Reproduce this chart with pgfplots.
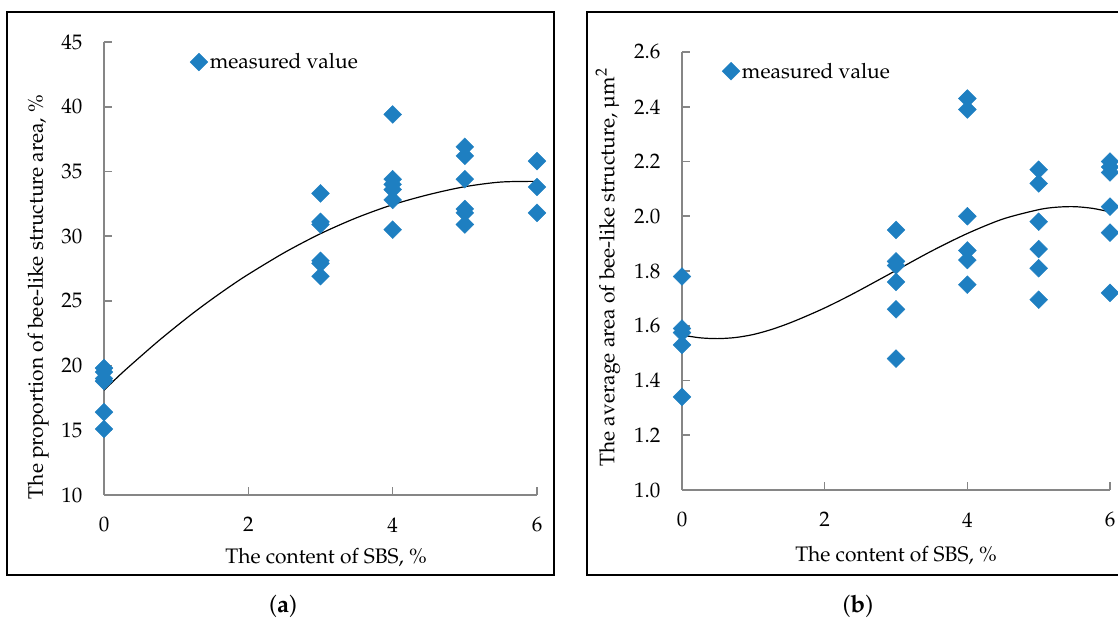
\documentclass[border=0pt]{standalone}
\usepackage[T1]{fontenc}
\usepackage{mathpazo}
\usepackage{textcomp}
\usepackage{pgfplots}
\pgfplotsset{compat=1.18}
\definecolor{mblue}{RGB}{30,127,193}
\definecolor{axgray}{RGB}{134,134,134}
\newcommand{\fs}{\fontsize{21}{25}\selectfont}
\pgfplotsset{
  myaxis/.style={
    scale only axis,
    anchor=south west,
    clip=false,
    axis x line=bottom,
    axis y line=left,
    axis line style={-, draw=axgray, line width=1.6pt},
    tick style={draw=axgray, line width=1.6pt},
    major tick length=8pt,
    tick align=inside,
    xmin=0, xmax=6,
    xtick={0,2,4,6},
    every tick label/.append style={font=\fs, text=black},
    yticklabel style={xshift=-18pt},
    xticklabel style={yshift=-19pt},
    label style={font=\fs},
    legend style={draw=none, fill=none, font=\fs, anchor=west, inner sep=0pt},
  },
  pts/.style={only marks, mark=square*, mark size=6.3pt,
    mark options={rotate=45, fill=mblue, draw=mblue}},
  fit/.style={no marks, black, line width=1.2pt, smooth},
}
\begin{document}
\begin{tikzpicture}
\useasboundingbox (0,0) rectangle (1118pt,628pt);
\draw[line width=1.5pt] (7pt,616pt) rectangle (554pt,53pt);
\draw[line width=1.5pt] (587pt,616pt) rectangle (1125pt,53pt);
\node[font=\fontsize{24}{28}\selectfont] at (283pt,22pt) {(\textbf{a})};
\node[font=\fontsize{24}{28}\selectfont] at (858pt,22pt) {(\textbf{b})};

\begin{axis}[myaxis,
  at={(104pt,133pt)}, width=433pt, height=453pt,
  ymin=10, ymax=45, ytick={10,15,20,25,30,35,40,45},
  xlabel={The content of SBS, \%},
  xlabel style={at={(rel axis cs:0.513,0)}, anchor=center, yshift=-63pt},
  ylabel={The proportion of bee-like structure area, \%},
  ylabel style={at={(rel axis cs:-0.152,0.437)}, anchor=center, rotate=0},
  legend style={at={(axis cs:1.19,43.45)}},
]
\addplot[pts] coordinates {
 (0,19.8) (0,19.5) (0,19.0) (0,18.8) (0,16.4) (0,15.1)
 (3,33.3) (3,31.1) (3,30.9) (3,28.1) (3,27.9) (3,26.9)
 (4,39.4) (4,34.4) (4,34.0) (4,33.6) (4,32.8) (4,30.5)
 (5,36.9) (5,36.2) (5,34.4) (5,32.1) (5,31.8) (5,30.9)
 (6,35.8) (6,33.8) (6,31.8)
};
\addlegendentry{measured value}
\addplot[fit, forget plot] coordinates {
 (0,18.10) (0.25,19.43) (0.5,20.67) (0.75,21.88) (1,23.02) (1.25,24.12)
 (1.5,25.15) (1.75,26.13) (2,27.05) (2.5,28.73) (3,30.19) (3.5,31.42)
 (4,32.43) (4.5,33.21) (5,33.82) (5.5,34.18) (6,34.23)
};
\end{axis}

\begin{axis}[myaxis,
  at={(682pt,138pt)}, width=428pt, height=438pt,
  ymin=1.0, ymax=2.6, ytick={1.0,1.2,1.4,1.6,1.8,2.0,2.2,2.4,2.6},
  yticklabel style={/pgf/number format/.cd, fixed, fixed zerofill, precision=1},
  xlabel={The content of SBS, \%},
  xlabel style={at={(rel axis cs:0.5,0)}, anchor=center, yshift=-66pt},
  ylabel={The average area of bee-like structure, \textmu m$^2$},
  ylabel style={at={(rel axis cs:-0.173,0.508)}, anchor=center, rotate=0},
  legend style={at={(axis cs:0.56,2.53)}},
]
\addplot[pts] coordinates {
 (0,1.78) (0,1.59) (0,1.575) (0,1.53) (0,1.34)
 (3,1.95) (3,1.835) (3,1.82) (3,1.76) (3,1.66) (3,1.48)
 (4,2.43) (4,2.39) (4,2.00) (4,1.875) (4,1.84) (4,1.75)
 (5,2.17) (5,2.12) (5,1.98) (5,1.88) (5,1.81) (5,1.695)
 (6,2.20) (6,2.18) (6,2.16) (6,2.035) (6,1.94) (6,1.72)
};
\addlegendentry{measured value}
\addplot[fit, forget plot] coordinates {
 (0,1.566) (0.25,1.556) (0.5,1.553) (0.75,1.557) (1,1.568) (1.25,1.586)
 (1.5,1.609) (1.75,1.636) (2,1.665) (2.25,1.697) (2.5,1.731) (3,1.802) (3.5,1.873)
 (4,1.937) (4.5,1.990) (5,2.024) (5.25,2.033) (5.5,2.035) (5.75,2.029) (6,2.016)
};
\end{axis}
\end{tikzpicture}
\end{document}
